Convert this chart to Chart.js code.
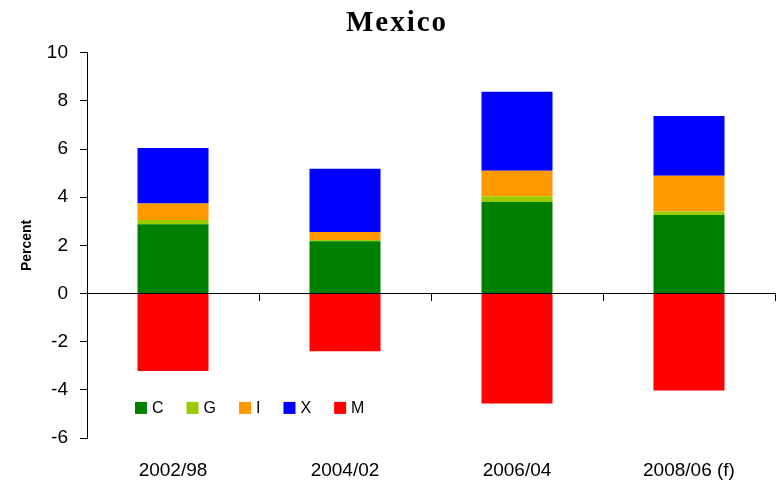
<!DOCTYPE html>
<html>
<head>
<meta charset="utf-8">
<script src="https://cdn.jsdelivr.net/npm/chart.js@4/dist/chart.umd.min.js"></script>
<style>
  html, body { margin: 0; padding: 0; background: #fff; }
  #wrap { width: 781px; height: 483px; }
</style>
</head>
<body>
<div id="wrap"><canvas id="c" width="781" height="483"></canvas></div>
<script>
// Contributions to GDP growth, percentage points
const periods = ['2002/98', '2004/02', '2006/04', '2008/06 (f)'];
const consumption = [2.88, 2.17, 3.80, 3.26];
const government = [0.17, 0.05, 0.24, 0.15];
const investment = [0.69, 0.34, 1.06, 1.48];
const exportsX = [2.31, 2.62, 3.28, 2.48];
const importsM = [-3.22, -2.40, -4.57, -4.03];
const yTicks = [-6, -4, -2, 0, 2, 4, 6, 8, 10];

const seriesNames = ['C', 'G', 'I', 'X', 'M'];
const seriesColors = ['#008000', '#99CC00', '#FF9900', '#0000FF', '#FF0000'];
const seriesValues = [consumption, government, investment, exportsX, importsM];
const chartTitle = 'Mexico';

// Legend drawn inside the plot area, below the zero line
const insideLegend = {
  id: 'insideLegend',
  afterDraw(chart) {
    const ctx = chart.ctx;
    const area = chart.chartArea;
    let x = area.left + 48;
    const yMid = chart.scales.y.getPixelForValue(-4.75);
    ctx.save();
    ctx.font = '16px "Liberation Sans", Arial, sans-serif';
    ctx.textBaseline = 'middle';
    ctx.textAlign = 'left';
    chart.data.datasets.forEach(ds => {
      ctx.fillStyle = ds.backgroundColor;
      ctx.fillRect(x, yMid - 6, 12, 12);
      ctx.fillStyle = '#000';
      ctx.fillText(ds.label, x + 17, yMid + 1);
      x += 12 + 5 + ctx.measureText(ds.label).width + 23;
    });
    ctx.restore();
  }
};

// Serif title with spaced lettering (the built-in title only reserves its room)
const spacedTitle = {
  id: 'spacedTitle',
  afterDraw(chart) {
    const ctx = chart.ctx;
    ctx.save();
    ctx.font = 'bold 29px "Liberation Serif", "DejaVu Serif", serif';
    ctx.letterSpacing = '2px';
    ctx.fillStyle = '#000';
    ctx.textAlign = 'center';
    ctx.textBaseline = 'middle';
    ctx.fillText(chartTitle, 397, 24);
    ctx.restore();
  }
};

new Chart(document.getElementById('c'), {
  type: 'bar',
  data: {
    labels: periods,
    datasets: seriesNames.map((name, i) => ({
      label: name,
      data: seriesValues[i],
      backgroundColor: seriesColors[i],
      borderWidth: 0,
      categoryPercentage: 1,
      barPercentage: 0.413,
      xAxisID: 'x',
      yAxisID: 'y'
    }))
  },
  options: {
    responsive: false,
    animation: false,
    devicePixelRatio: 1,
    layout: { padding: { top: 2, right: 6, left: 0, bottom: 0 } },
    plugins: {
      legend: { display: false },
      tooltip: { enabled: false },
      title: {
        display: true,
        text: chartTitle,
        color: 'rgba(0,0,0,0)',
        font: { family: '"Liberation Serif", "DejaVu Serif", serif', size: 29, weight: 'bold' },
        padding: { top: 5, bottom: 11 }
      }
    },
    scales: {
      x: {
        stacked: true,
        offset: true,
        afterFit(scale) { scale.height = 45; },
        grid: { display: false, drawTicks: false },
        border: { display: false },
        ticks: {
          color: '#000',
          font: { family: '"Liberation Sans", Arial, sans-serif', size: 19 },
          padding: 21
        }
      },
      xZero: {
        type: 'category',
        labels: periods,
        position: { y: 0 },
        offset: true,
        afterFit(scale) { scale.height = 0; },
        grid: {
          offset: true,
          drawOnChartArea: false,
          drawTicks: true,
          tickLength: 7,
          color: '#000'
        },
        border: { display: true, color: '#000', width: 1 },
        ticks: { display: false }
      },
      y: {
        stacked: true,
        min: -6,
        max: 10,
        afterBuildTicks(scale) {
          scale.ticks = yTicks.map(v => ({ value: v }));
        },
        afterFit(scale) { scale.width = 87; },
        grid: {
          drawOnChartArea: false,
          drawTicks: true,
          tickLength: 7,
          color: '#000'
        },
        border: { display: true, color: '#000', width: 1 },
        ticks: {
          color: '#000',
          font: { family: '"Liberation Sans", Arial, sans-serif', size: 19 },
          padding: 12
        },
        title: {
          display: true,
          text: 'Percent',
          color: '#000',
          font: { family: '"Liberation Sans", Arial, sans-serif', size: 14, weight: 'bold' },
          padding: { top: 19, bottom: 0 }
        }
      }
    }
  },
  plugins: [spacedTitle, insideLegend]
});
</script>
</body>
</html>
